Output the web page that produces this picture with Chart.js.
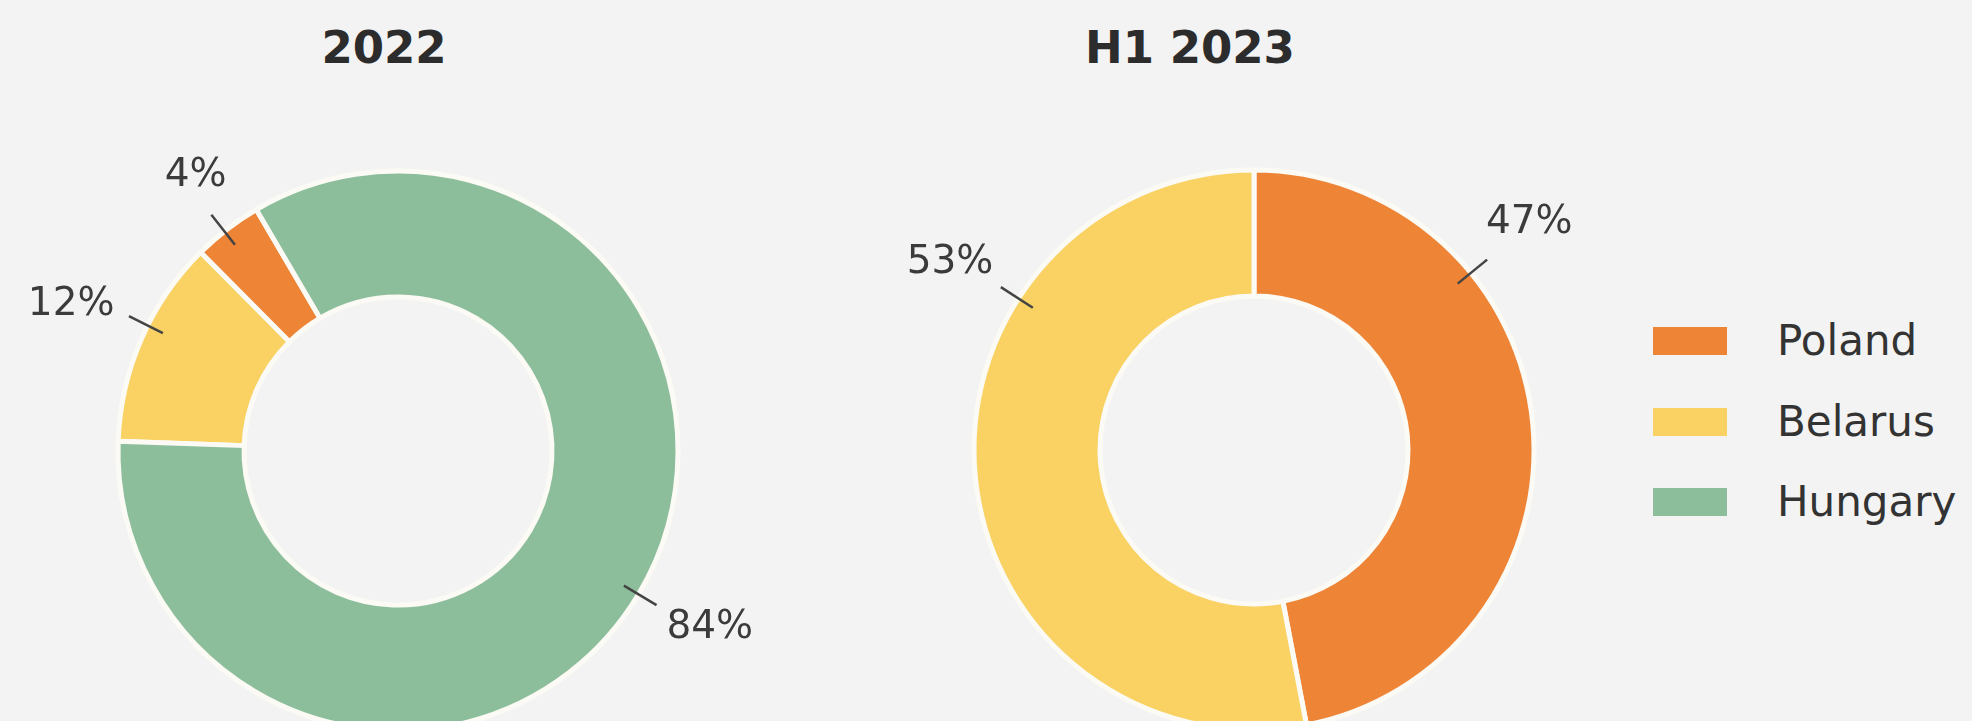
<!DOCTYPE html>
<html>
<head>
<meta charset="utf-8">
<title>Poland / Belarus / Hungary</title>
<script src="https://cdn.jsdelivr.net/npm/chart.js@4.4.0/dist/chart.umd.min.js"></script>
<style>
  html, body { margin: 0; padding: 0; }
  body {
    position: relative;
    width: 1972px;
    height: 721px;
    overflow: hidden;
    background: #f3f3f3;
    font-family: "DejaVu Sans", sans-serif;
  }
  .panel { position: absolute; top: 0; }
  .title {
    position: absolute;
    top: 25px;
    width: 400px;
    text-align: center;
    font-weight: bold;
    font-size: 45px;
    line-height: 45px;
    color: #2c2c2c;
  }
  #legend { position: absolute; left: 1653px; top: 327px; }
  #legend .item { display: flex; align-items: center; height: 28px; margin-bottom: 52.5px; }
  #legend .box { display: inline-block; width: 74px; height: 28px; }
  #legend .text { margin-left: 50px; font-size: 42px; line-height: 28px; color: #333; white-space: nowrap; }
</style>
</head>
<body>

<div class="title" style="left: 184px;">2022</div>
<div class="title" style="left: 990px;">H1 2023</div>

<canvas id="chart-2022" class="panel" style="left: 8px;" width="780" height="902"></canvas>
<canvas id="chart-h1" class="panel" style="left: 874px;" width="760" height="900"></canvas>

<div id="legend"></div>

<script>
/**
 * data
 */
var countries = ['Poland', 'Belarus', 'Hungary'];
var colors = ['#ee8435', '#f9d263', '#8dbe9c'];

var share2022 = [4, 12, 84];
var shareH1 = [47, 53, 0];

// 2022 ring is drawn Belarus -> Poland -> Hungary going clockwise
var order2022 = [1, 0, 2];
var orderH1 = [0, 1, 2];

function pick(arr, order) {
    return order.map(function (i) { return arr[i]; });
}

/**
 * percentage labels with a short leader line
 * the text sits beside the line end for flat angles and above/below it for steep ones
 */
var leaderLabels = {
    id: 'leaderLabels',
    afterDatasetsDraw: function (chart, args, opts) {
        var ctx = chart.ctx;
        var meta = chart.getDatasetMeta(0);
        var values = chart.data.datasets[0].data;

        ctx.save();
        ctx.font = opts.font;
        ctx.fillStyle = opts.color;
        ctx.strokeStyle = opts.lineColor;
        ctx.lineWidth = opts.lineWidth;
        ctx.textAlign = 'center';
        ctx.textBaseline = 'middle';

        meta.data.forEach(function (arc, i) {
            if (!values[i]) return;

            var p = arc.getProps(['x', 'y', 'startAngle', 'endAngle', 'outerRadius'], true);
            var a = p.startAngle + (p.endAngle - p.startAngle) * opts.anchor[i];
            var dx = Math.cos(a), dy = Math.sin(a);
            var r1 = p.outerRadius - 17, r2 = p.outerRadius + 21;
            var ex = p.x + dx * r2, ey = p.y + dy * r2;

            ctx.beginPath();
            ctx.moveTo(p.x + dx * r1, p.y + dy * r1);
            ctx.lineTo(ex, ey);
            ctx.stroke();

            var text = values[i] + '%';
            var w = ctx.measureText(text).width;
            var offX = Math.sign(dx) * (w / 2) * 3 * Math.max(0, Math.abs(dx) - 0.45);
            var offY = Math.sign(dy) * Math.min(40, 140 * Math.max(0, Math.abs(dy) - 0.36));
            ctx.fillText(text, ex + offX, ey + offY + 1);
        });
        ctx.restore();
    }
};

function ringOptions(rotation, anchor) {
    return {
        responsive: false,
        maintainAspectRatio: false,
        animation: false,
        events: [],
        rotation: rotation,
        radius: 280,
        cutout: '55%',
        layout: { padding: 0 },
        plugins: {
            legend: { display: false },
            tooltip: { enabled: false },
            title: { display: false },
            leaderLabels: {
                anchor: anchor,
                font: '39px "DejaVu Sans"',
                color: '#3b3b3b',
                lineColor: '#444',
                lineWidth: 2.5
            }
        }
    };
}

function ring(id, order, values, rotation, anchor) {
    return new Chart(document.getElementById(id).getContext('2d'), {
        type: 'doughnut',
        data: {
            labels: pick(countries, order),
            datasets: [{
                data: pick(values, order),
                backgroundColor: pick(colors, order),
                borderColor: '#fbfaf4',
                borderWidth: 5
            }]
        },
        options: ringOptions(rotation, anchor),
        plugins: [leaderLabels]
    });
}

// anchor = where along each slice (0..1) the leader line starts, in drawing order
var chart2022 = ring('chart-2022', order2022, share2022, -88, [0.57, 0.45, 0.5]);
var chartH1 = ring('chart-h1', orderH1, shareH1, 0, [0.3, 0.7, 0.5]);

/**
 * html legend, built from the H1 chart (it keeps the country order)
 */
var legendItems = chartH1.options.plugins.legend.labels.generateLabels(chartH1);
var legendHtml = '';
legendItems.forEach(function (item) {
    legendHtml += '<div class="item"><span class="box" style="background:' + item.fillStyle + '"></span>' +
        '<span class="text">' + item.text + '</span></div>';
});
document.getElementById('legend').innerHTML = legendHtml;
</script>
</body>
</html>
